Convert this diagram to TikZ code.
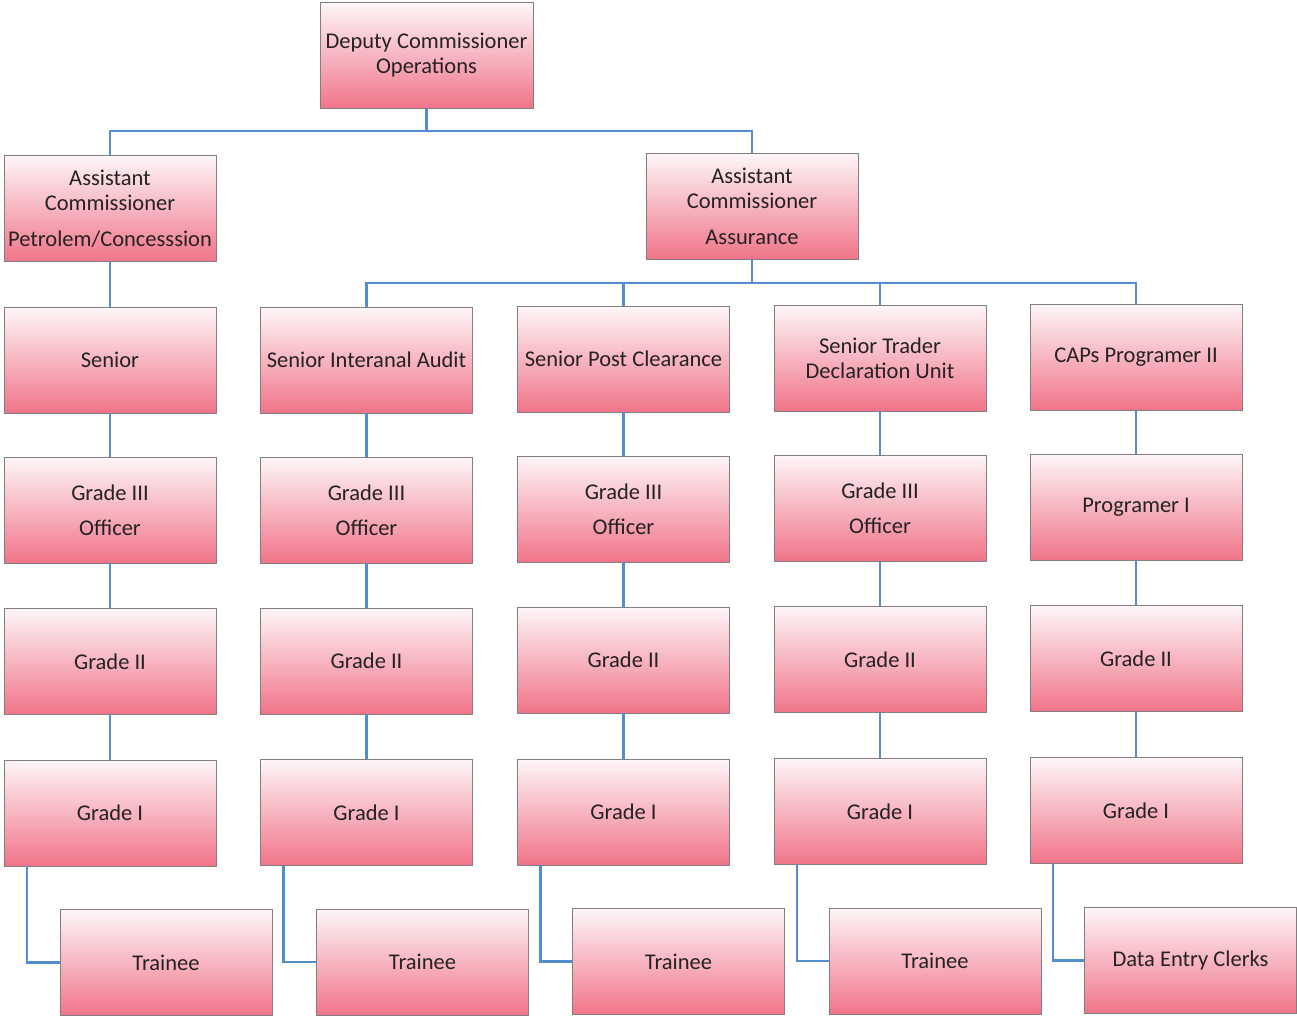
\documentclass[tikz,border=0pt]{standalone}
\usepackage{fontspec}
\setmainfont{Carlito}
\definecolor{conncol}{RGB}{84,141,204}
\definecolor{boxtop}{RGB}{253,246,248}
\definecolor{boxmid}{RGB}{250,214,221}
\definecolor{boxbot}{RGB}{241,116,137}
\definecolor{boxline}{RGB}{130,125,127}
\definecolor{txt}{RGB}{38,34,36}
\begin{document}
\begin{tikzpicture}[x=1pt,y=-1pt,
  box/.style={rectangle, minimum width=212pt, minimum height=106pt, inner sep=0pt,
    align=center, top color=boxtop, middle color=boxmid, bottom color=boxbot,
    draw=boxline, line width=0.6pt, text=txt,
    font=\fontsize{22.5}{25}\selectfont},
  conn/.style={draw=conncol, line width=2.8pt, line cap=butt, line join=miter}]
\useasboundingbox (0,0) rectangle (1297,1017);
% level 0-1
\node[box, minimum width=213pt] (dep) at (426.5,55.5) {Deputy Commissioner\\Operations};
\node[box] (acp) at (110,208.5) {Assistant\\Commissioner\\[11pt]Petrolem/Concesssion};
\node[box] (aca) at (752,206.5) {Assistant\\Commissioner\\[11pt]Assurance};
% row 3
\node[box] (r3c1) at (110,360) {Senior};
\node[box] (r3c2) at (366.5,360) {Senior Interanal Audit};
\node[box] (r3c3) at (623.5,359) {Senior Post Clearance};
\node[box] (r3c4) at (880,358) {Senior Trader\\Declaration Unit};
\node[box] (r3c5) at (1136,357.5) {CAPs Programer II};
% row 4
\node[box] (r4c1) at (110,510) {Grade III\\[10pt]Officer};
\node[box] (r4c2) at (366.5,510) {Grade III\\[10pt]Officer};
\node[box] (r4c3) at (623.5,509) {Grade III\\[10pt]Officer};
\node[box] (r4c4) at (880,508) {Grade III\\[10pt]Officer};
\node[box] (r4c5) at (1136,507) {Programer I};
% row 5
\node[box] (r5c1) at (110,661.5) {Grade II};
\node[box] (r5c2) at (366.5,661) {Grade II};
\node[box] (r5c3) at (623.5,660) {Grade II};
\node[box] (r5c4) at (880,659.5) {Grade II};
\node[box] (r5c5) at (1136,658.5) {Grade II};
% row 6
\node[box] (r6c1) at (110,813) {Grade I};
\node[box] (r6c2) at (366.5,812.5) {Grade I};
\node[box] (r6c3) at (623.5,812) {Grade I};
\node[box] (r6c4) at (880,811.5) {Grade I};
\node[box] (r6c5) at (1136,810.5) {Grade I};
% row 7
\node[box] (r7c1) at (166,962.5) {Trainee};
\node[box] (r7c2) at (422.5,962) {Trainee};
\node[box] (r7c3) at (678.5,961.5) {Trainee};
\node[box] (r7c4) at (935,961) {Trainee};
\node[box] (r7c5) at (1190.5,960.5) {Data Entry Clerks};
% buses
\coordinate (bus1) at (0,131);
\coordinate (bus2) at (0,283);
\draw[conn] (dep.south) -- (dep.south |- bus1) -| (acp.north);
\draw[conn] (dep.south |- bus1) -| (aca.north);
\draw[conn] (aca.south) -- (aca.south |- bus2);
\draw[conn] (aca.south |- bus2) -| (r3c2.north);
\draw[conn] (aca.south |- bus2) -| (r3c3.north);
\draw[conn] (aca.south |- bus2) -| (r3c4.north);
\draw[conn] (aca.south |- bus2) -| (r3c5.north);
\draw[conn] (acp.south) -- (r3c1.north);
\foreach \c in {1,...,5}{
  \draw[conn] (r3c\c.south) -- (r4c\c.north);
  \draw[conn] (r4c\c.south) -- (r5c\c.north);
  \draw[conn] (r5c\c.south) -- (r6c\c.north);
  \draw[conn] ([xshift=-83pt]r6c\c.south) |- (r7c\c.west);
}
\end{tikzpicture}
\end{document}
